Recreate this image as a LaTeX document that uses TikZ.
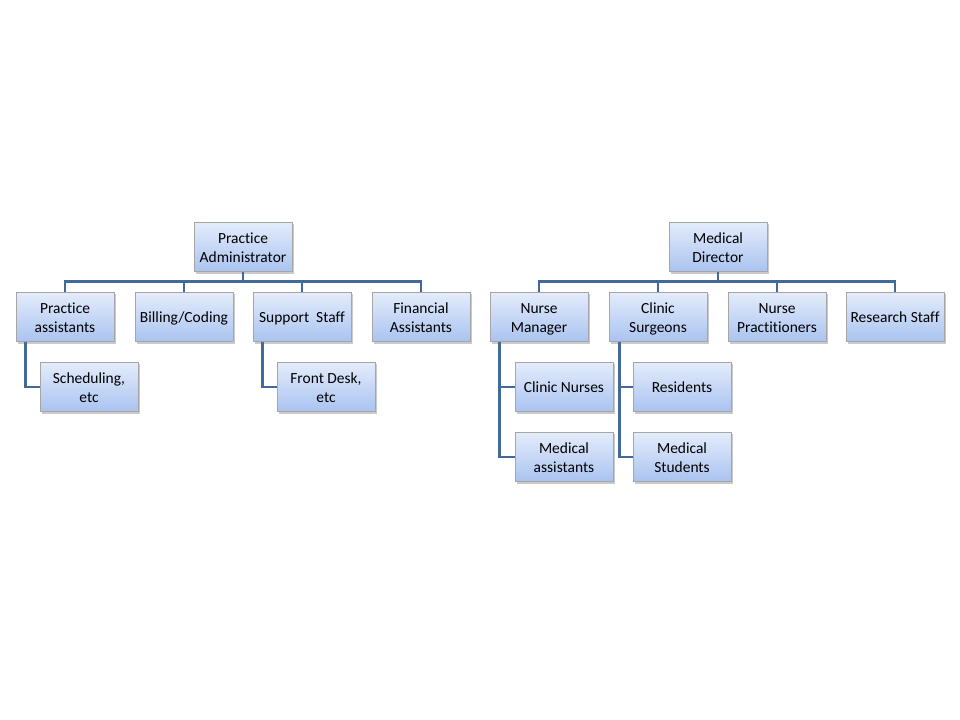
\documentclass[tikz,border=0pt]{standalone}
\usepackage{fontspec}
\setmainfont[Ligatures=NoCommon]{Carlito}
\usetikzlibrary{shadows,backgrounds}
\definecolor{linkblue}{HTML}{41699A}
\definecolor{boxtop}{HTML}{E4ECFB}
\definecolor{boxbottom}{HTML}{A9C3F0}
\definecolor{boxedge}{HTML}{A6A6A6}
\tikzset{
    orgbox/.style = {draw=boxedge, thin, rectangle, top color=boxtop, bottom color=boxbottom,
        minimum width=73.5pt, minimum height=37pt, inner sep=0.5pt, text width=72pt, align=flush center,
        font=\fontsize{11.6}{13.6}\selectfont,
        execute at begin node={\rule{0pt}{13pt}}, execute at end node=\strut,
        drop shadow={shadow xshift=1.5pt, shadow yshift=-1.5pt, opacity=0.35, fill=black!60}},
    orglink/.style = {draw=linkblue, line width=2.2pt},
}

\begin{document}
\begin{tikzpicture}[x=0.75pt, y=-0.75pt]
\useasboundingbox (0,0) rectangle (960,720);
% practice side
\node [orgbox] (admin) at (243,247) {Practice\\Administrator};
\node [orgbox] (passist) at (65,317) {Practice\\assistants};
\node [orgbox] (billing) at (184,317) {Billing/Coding};
\node [orgbox] (support) at (302,317) {Support~ Staff};
\node [orgbox] (finance) at (421,317) {Financial\\Assistants};
\node [orgbox] (sched) at (89,387) {Scheduling,\\etc};
\node [orgbox] (front) at (326,387) {Front Desk,\\etc};
% medical side
\node [orgbox] (director) at (718,247) {Medical\\Director};
\node [orgbox] (nmanager) at (539,317) {Nurse\\Manager};
\node [orgbox] (surgeons) at (658,317) {Clinic\\Surgeons};
\node [orgbox] (npract) at (777,317) {Nurse\\Practitioners};
\node [orgbox] (research) at (895,317) {Research Staff};
\node [orgbox] (cnurses) at (564,387) {Clinic Nurses};
\node [orgbox] (massist) at (564,457) {Medical\\assistants};
\node [orgbox] (residents) at (682,387) {Residents};
\node [orgbox] (students) at (682,457) {Medical\\Students};

\begin{pgfonlayer}{background}
\foreach \kid in {passist, billing, support, finance}
    \draw [orglink] (admin.south) -- ++(0,10) -| (\kid.north);
\foreach \kid in {nmanager, surgeons, npract, research}
    \draw [orglink] (director.south) -- ++(0,10) -| (\kid.north);
\draw [orglink] ([xshift=7.5pt]passist.south west) |- (sched.west);
\draw [orglink] ([xshift=7.5pt]support.south west) |- (front.west);
\draw [orglink] ([xshift=7.5pt]nmanager.south west) |- (cnurses.west);
\draw [orglink] ([xshift=7.5pt]nmanager.south west) |- (massist.west);
\draw [orglink] ([xshift=8pt]surgeons.south west) |- (residents.west);
\draw [orglink] ([xshift=8pt]surgeons.south west) |- (students.west);
\end{pgfonlayer}
\end{tikzpicture}
\end{document}
